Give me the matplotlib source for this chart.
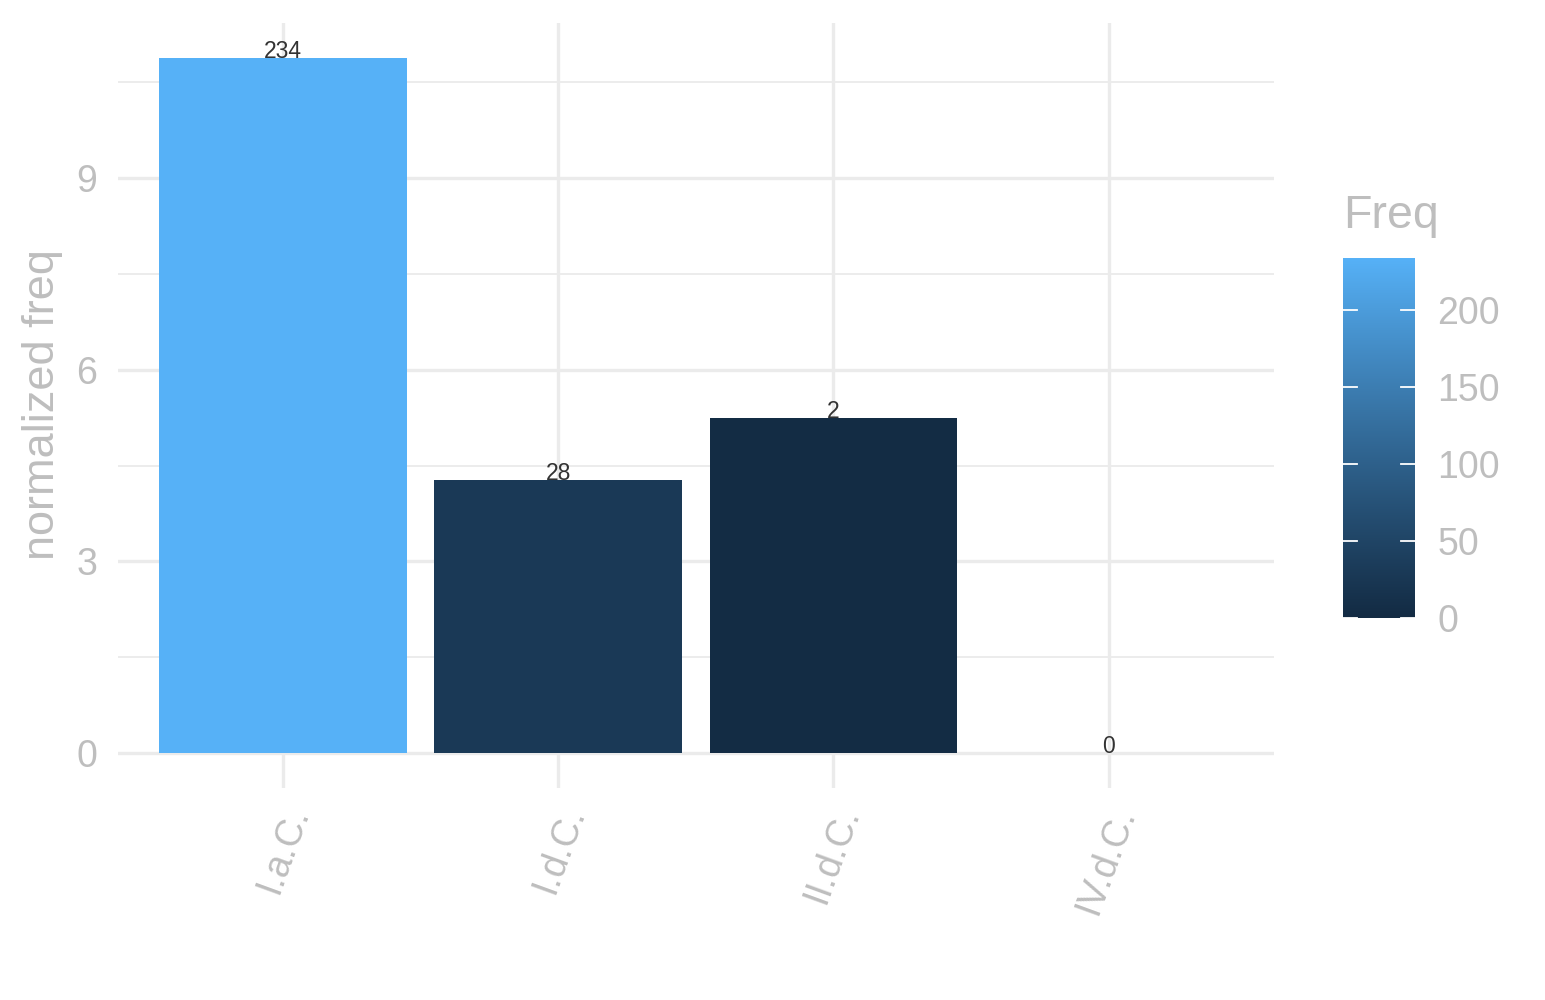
import numpy as np
import matplotlib
matplotlib.use("Agg")
import matplotlib.pyplot as plt
from matplotlib.colors import ListedColormap, Normalize, to_rgb
from matplotlib.transforms import offset_copy

categories = ["I.a.C.", "I.d.C.", "II.d.C.", "IV.d.C."]
norm_freq = [10.88, 4.28, 5.24, 0.0]
freq = [234, 28, 2, 0]
cbar_ticks = [0, 50, 100, 150, 200]
y_ticks = [0, 3, 6, 9]
y_minor = [1.5, 4.5, 7.5, 10.5]

LOW, HIGH = "#132B43", "#56B1F7"
GREY = "#BEBEBE"
GRID = "#EBEBEB"


# ggplot style gradient: interpolate in CIELAB
def to_lab(rgb):
    c = np.array(rgb)
    c = np.where(c > 0.04045, ((c + 0.055) / 1.055) ** 2.4, c / 12.92)
    m = np.array([[0.4124, 0.3576, 0.1805],
                  [0.2126, 0.7152, 0.0722],
                  [0.0193, 0.1192, 0.9505]])
    xyz = m @ c / np.array([0.95047, 1.0, 1.08883])
    f = np.where(xyz > 0.008856, np.cbrt(xyz), 7.787 * xyz + 16 / 116)
    return np.array([116 * f[1] - 16, 500 * (f[0] - f[1]), 200 * (f[1] - f[2])])


def from_lab(lab):
    fy = (lab[0] + 16) / 116
    fx = fy + lab[1] / 500
    fz = fy - lab[2] / 200
    f = np.array([fx, fy, fz])
    xyz = np.where(f ** 3 > 0.008856, f ** 3, (f - 16 / 116) / 7.787)
    xyz = xyz * np.array([0.95047, 1.0, 1.08883])
    m = np.array([[3.2406, -1.5372, -0.4986],
                  [-0.9689, 1.8758, 0.0415],
                  [0.0557, -0.2040, 1.0570]])
    c = m @ xyz
    c = np.where(c > 0.0031308, 1.055 * np.clip(c, 0, None) ** (1 / 2.4) - 0.055, 12.92 * c)
    return np.clip(c, 0, 1)


lo, hi = to_lab(to_rgb(LOW)), to_lab(to_rgb(HIGH))
cmap = ListedColormap([from_lab(lo + t * (hi - lo)) for t in np.linspace(0, 1, 256)])
cnorm = Normalize(0, max(freq))

plt.rcParams["font.family"] = ["Liberation Sans", "DejaVu Sans"]

fig = plt.figure(figsize=(15.45, 10), dpi=100)
ax = fig.add_axes([0.0764, 0.212, 0.748, 0.765])

x = np.arange(1, len(categories) + 1)
ax.bar(x, norm_freq, width=0.9, color=[cmap(cnorm(f)) for f in freq], zorder=2)
for xi, v, f in zip(x, norm_freq, freq):
    ax.text(xi, v, str(f), ha="center", va="baseline", fontsize=16.5,
            color="#333333", zorder=3)

ymax = max(norm_freq)
ax.set_ylim(-0.05 * ymax, 1.05 * ymax)
ax.set_xlim(0.4, len(categories) + 0.6)
ax.set_yticks(y_ticks)
ax.set_yticks(y_minor, minor=True)
ax.set_xticks(x)
ax.grid(which="major", color=GRID, lw=2.4, zorder=0)
ax.grid(which="minor", axis="y", color=GRID, lw=1.3, zorder=0)
ax.tick_params(which="both", length=0)
ax.tick_params(axis="y", labelsize=27, labelcolor=GREY, pad=15)
ax.set_xticklabels([])
for s in ax.spines.values():
    s.set_visible(False)

for xi, lab in zip(x, categories):
    tr = offset_copy(ax.get_xaxis_transform(), fig=fig, x=16, y=-20, units="dots")
    ax.text(xi, 0, lab, transform=tr, rotation=70, rotation_mode="anchor",
            ha="right", va="center", fontsize=27, color=GREY)

fig.text(43 / 1545, 0.595, "normalized freq", rotation=90, ha="center",
         va="center", fontsize=32.5, color=GREY)

# colour bar legend
cax = fig.add_axes([0.8692, 0.382, 0.0466, 0.36])
grad = np.linspace(0, max(freq), 256).reshape(-1, 1)
cax.imshow(grad, cmap=cmap, norm=cnorm, aspect="auto", origin="lower",
           extent=[0, 1, 0, max(freq)])
for t in cbar_ticks:
    cax.plot([0, 0.2], [t, t], color="white", lw=1.3)
    cax.plot([0.8, 1], [t, t], color="white", lw=1.3)
cax.set_xlim(0, 1)
cax.set_ylim(0, max(freq))
cax.set_xticks([])
cax.yaxis.tick_right()
cax.set_yticks(cbar_ticks)
cax.tick_params(length=0, pad=16, labelsize=27, labelcolor=GREY)
for s in cax.spines.values():
    s.set_visible(False)
fig.text(1343 / 1545, 1 - 216 / 1000, "Freq", ha="left", va="center",
         fontsize=33.5, color=GREY)

fig.savefig("out.png", dpi=100, facecolor="white")
